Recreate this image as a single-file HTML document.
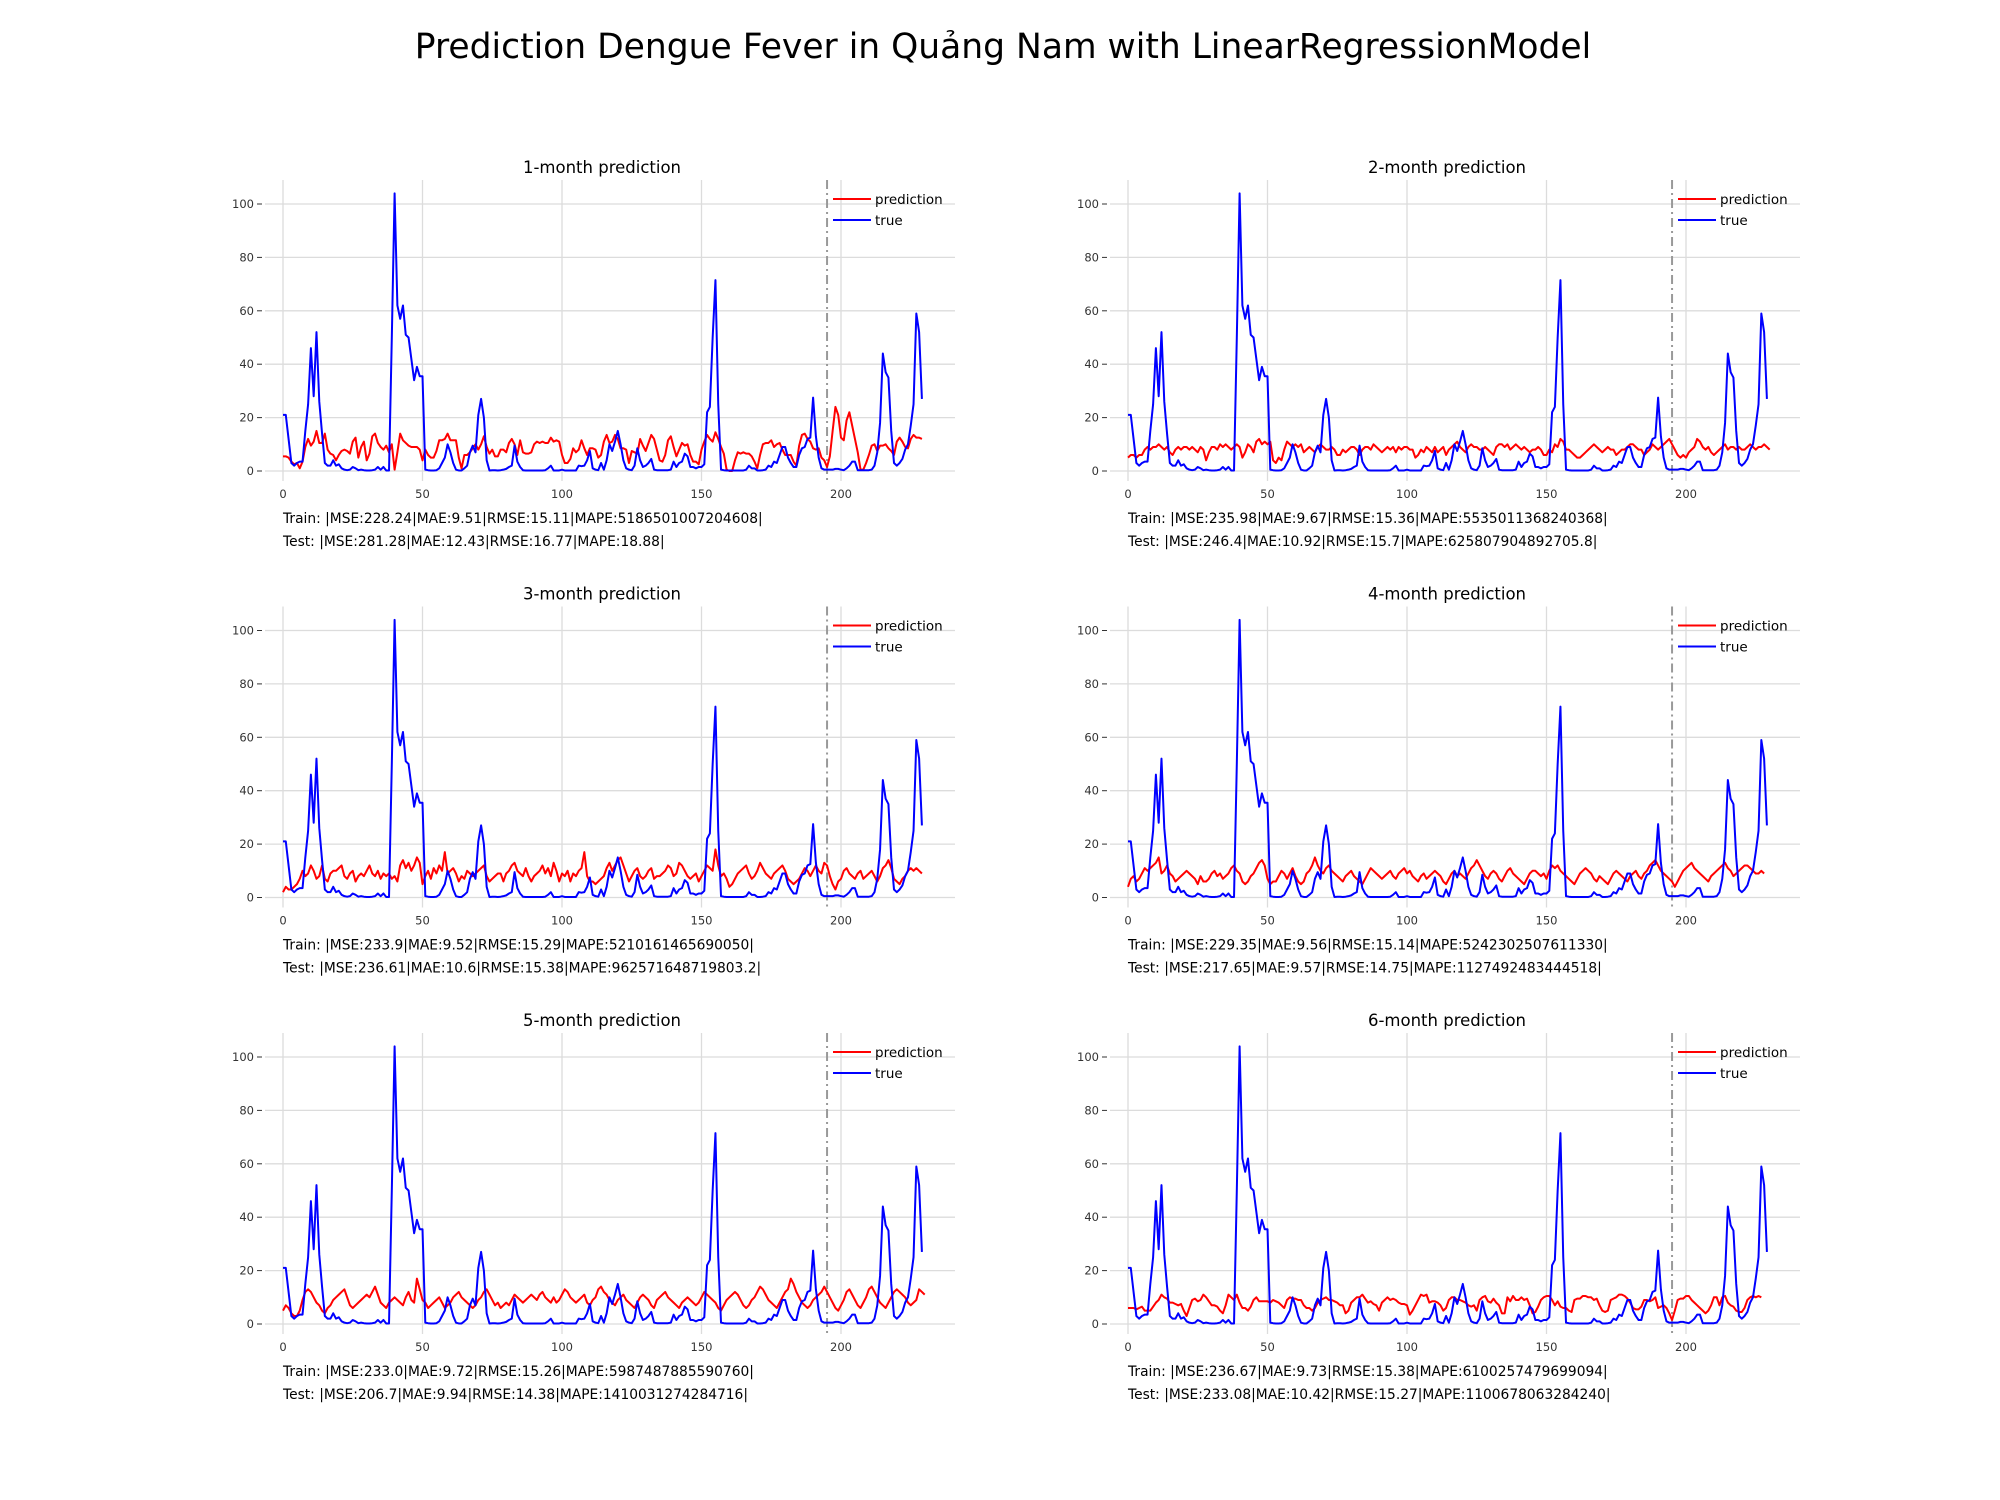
<!DOCTYPE html>
<html><head><meta charset="utf-8"><style>
html,body{margin:0;padding:0;background:#fff;}
svg{display:block;font-family:"DejaVu Sans","Liberation Sans",sans-serif;}
</style></head><body>
<svg id="chart" width="2000" height="1500" viewBox="0 0 2000 1500" xmlns="http://www.w3.org/2000/svg">
<rect width="2000" height="1500" fill="#fff"/>
<text x="1003" y="58" font-size="34.5" text-anchor="middle" fill="#000">Prediction Dengue Fever in Quảng Nam with LinearRegressionModel</text>
</svg>
<script>
const trueVals=[21,21,12,3,2,3,3.5,3.5,15,25,46,28,52,26,14,3,2,2,4,2,2.5,1,0.5,0.3,0.5,1.5,1,0.3,0.5,0.3,0.2,0.2,0.3,0.5,1.5,0.5,1.5,0.2,0.2,50,104,62,57,62,51,50,42,34,39,35.5,35.5,0.5,0.3,0.2,0.2,0.3,1,3,5,10,7,3,0.5,0.2,0.2,1,2,7,9.5,7,21,27,20,4,0.2,0.3,0.3,0.2,0.3,0.5,0.8,1.5,2,9.5,3.5,1.5,0.3,0.2,0.2,0.2,0.2,0.2,0.2,0.2,0.3,1,2,0.2,0.2,0.2,0.5,0.2,0.2,0.2,0.2,0.2,2,1.8,2,4,7.5,1,0.5,0.3,3,0.5,4,10,7.5,11,15,10,4,1,0.5,0.3,2,8.5,4,1.5,2,3,4.5,0.5,0.3,0.3,0.3,0.3,0.3,0.5,3.5,1.5,3,3.5,6.5,5.5,1.5,1.5,1,1.5,1.5,2.5,22,24,50,71.5,25,0.5,0.3,0.2,0.2,0.2,0.2,0.2,0.2,0.2,0.5,2,1,1,0.2,0.2,0.3,0.5,2,1.5,3.5,3,6,9,9,5,3,1.5,1.5,6,8.5,9,12,12.5,27.5,13,5,1,0.5,0.5,0.5,0.5,0.8,0.8,0.5,0.3,1,2,3.5,3.5,0.3,0.3,0.3,0.3,0.3,0.5,2,7,18,44,37,35,15,3,2,3,4.5,8,10,17,25,59,52,27];
const pred1=[5.5,5.5,5,3.5,2.5,3,1,3.5,9,12,9.5,11,15,10.5,10.5,14,8,6.5,6,4,6,7.5,8,7.5,6.5,11,12.5,5,9,11,4,6.5,13,14,10.5,9,8,9.5,7,10,0.5,7,14,11.5,10.5,9.5,9,9,9,8,4,8,6,5,5,7.5,11.5,11.5,12,14,11.5,11.5,11.5,5,1,6,6,7,8.5,10,8,10,13,9,6.5,8,5.5,5.5,8,8,7,10.5,12,10,6,11.5,7,6.5,6.5,7,10,11,10.5,11,10.5,10.5,12.5,11,11.5,11,6,3,3,4.5,8.5,7,8,11.5,8.5,6,8.5,8.5,8,5,6,11,13.5,10.5,11,13.5,12,8.5,8.5,8,3,7.5,7,6.5,12,9.5,7.5,10.5,13.5,12,8,4,3.5,6,11.5,13,9,5.5,8,10.5,9.5,10,6,3.5,3.5,2.5,8,11,13.5,12,11,14.5,12,9,6.5,0.5,0,0,4,7,6.5,7,6.5,6.5,5.5,3.5,1,6,10,10.5,10.5,11.5,9,10,10.5,8,6,6,6,3.5,2,9.5,13.5,14,12,11,8.5,8,8.5,5,4,1.5,5.5,15,24,21,12.5,11.5,19,22,17,12,7,0.5,0.5,3,6,9.5,10,7.5,9.5,9.5,10,8.5,7.5,6,11,12.5,11,9,8.5,12,13.5,12.5,12.5,12];
const pred2=[5,6,6,5,6,6,8,9,8,9,9,10,9,8,9,7,6,8,9,8,9,9,8,9,8,7,9,8,4,7,9,9,8,10,9,10,9,8,9,10,9,5,7,10,9,7,11,12,10,11,10,11,4,3,5,4,8,11,10,9,10,9,10,7,8,9,8,7,9,10,9,8,8,9,8,6,6,8,7,8,9,9,8,6,8,9,9,8,10,9,8,7,8,9,8,9,7,9,8,9,9,8,8,5,6,8,7,9,8,7,9,7,8,9,6,8,9,10,11,9,8,7,9,10,9,9,8,8,9,8,7,6,9,10,10,9,10,8,9,10,9,8,9,8,7,8,8,9,8,6,6,8,7,10,9,12,11,8,8,7,6,5,5,6,7,8,9,10,9,8,7,8,9,8,8,6,7,8,8,9,10,10,9,8,8,6,7,8,10,9,8,9,10,11,12,10,8,6,5,6,5,7,8,9,12,11,9,8,9,7,6,7,8,9,10,8,9,9,8,9,8,8,9,10,9,8,9,9,10,9,8];
const pred3=[2,4,3,3,4,5,7,10,8,9,12,10,7,8,12,7,6,9,10,10,11,12,8,7,9,10,6,8,9,8,10,12,9,8,10,7,9,8,9,7,8,6,12,14,11,13,10,12,15,13,5,8,10,7,11,9,12,10,17,9,10,11,9,6,8,7,10,9,8,9,10,11,12,8,6,7,8,9,9,6,9,10,12,13,10,9,8,11,8,6,8,9,10,12,9,11,8,13,10,6,9,8,10,6,9,8,10,11,17,8,6,6,5,6,7,8,11,13,10,12,14,15,12,9,6,8,10,11,8,7,8,10,11,7,8,8,9,10,12,11,8,9,13,12,10,8,7,8,9,6,8,10,12,11,10,18,12,8,9,7,4,5,7,9,10,11,12,9,7,8,10,13,11,9,8,7,9,10,11,12,10,7,6,5,6,7,9,11,10,8,10,12,10,9,13,12,8,5,3,6,7,10,11,9,8,7,9,10,7,8,9,10,8,6,8,11,12,14,11,7,6,5,7,8,10,11,10,11,10,9];
const pred4=[4,7,8,6,7,9,11,10,11,12,13,15,9,10,12,9,8,6,7,8,9,10,9,8,7,5,8,6,6,7,9,10,8,9,7,8,9,11,12,10,9,6,5,6,8,9,11,13,14,12,7,5,6,6,8,10,9,7,9,11,8,6,5,6,9,10,12,15,12,10,9,11,12,10,9,8,7,6,8,9,10,8,7,6,5,7,9,11,10,9,8,7,8,9,10,8,7,9,10,11,9,10,8,7,6,8,9,7,8,9,10,9,8,6,5,7,9,10,8,9,8,7,9,11,12,14,12,10,8,7,9,10,9,7,6,8,10,11,9,8,7,6,5,7,9,10,10,9,8,9,7,10,12,11,12,10,9,8,7,6,5,7,9,10,11,10,9,7,6,8,7,6,5,7,9,10,9,8,7,6,8,9,10,8,7,9,10,12,13,14,12,10,9,8,7,6,4,6,8,10,11,12,13,11,10,9,8,7,6,8,9,10,11,12,13,11,10,8,9,10,11,12,12,11,10,9,9,10,9];
const pred5=[5,7,6,4,3,3,5,9,12,13,12,10,8,7,5,4,6,7,9,10,11,12,13,10,7,6,7,8,9,10,11,10,12,14,11,8,7,6,8,9,10,9,8,7,10,12,9,8,17,13,9,8,6,7,8,9,10,8,6,7,8,10,11,12,10,9,8,7,6,7,9,10,12,13,11,9,7,8,6,7,8,7,9,11,10,9,8,9,10,11,10,9,11,12,10,9,8,10,8,9,11,13,12,10,9,8,9,10,11,8,7,9,10,13,14,12,11,9,8,7,9,10,11,9,8,7,6,8,10,11,10,9,7,6,9,10,11,12,10,9,8,7,6,8,9,10,9,8,7,8,10,12,11,10,9,8,6,5,7,9,10,11,12,11,9,7,6,7,9,10,12,14,13,11,9,8,7,6,8,10,12,13,17,15,12,10,8,7,6,7,9,10,11,12,14,12,10,8,6,5,7,9,12,13,11,9,7,6,8,10,13,14,12,10,8,7,6,8,10,12,13,12,11,10,8,7,8,9,13,12,11];
const pred6=[6,6,6,5.5,6,6.5,5,5,5,6.5,8,9,11,10,9.5,8,8,7.5,7,7.5,5,3,6,9,9.5,8.5,9,11,10,8.5,7,7,6.5,5,4,7,11,10,9,11,8,6,6,5,6.5,9,10,8.5,8.5,8.5,8.5,8,9,8.5,8,7,6,9,10,9.5,9.5,9,9,7,6,6,5,6,8,9,9.5,10,9,9,8.5,8,7,7,4,5,8,9,10,10,11,9.5,8,8.5,7.5,7,5,8,9,10,9,9.5,9,8,7.5,7.5,7,3.5,5,7,9,11,10.5,11,8,8.5,8.5,8,7,5,6,9,10,10,9,9,8.5,8,7,6.5,7,5,9,10,10.5,8.5,8,9.5,8,7,4,4,10,8.5,10.5,9,9,10,9,9.5,7,4,4.5,6.5,9,10,10.5,10.5,9,7,8.5,6.5,6,6,5,4.5,9,9.5,9.5,10.5,10.5,10,10,9,9.5,7,5,4.5,5,9,9.5,10,11,11,10.5,9.5,8,6,5.5,5.5,6.5,9,9,8.5,9,10,6,6.5,7,6,4,1.5,5,9,9.5,9.5,10.5,10.5,9,8,7,6,5,4,5,7,10,10,7,10,10.5,8,7,6.5,5,4.5,4.5,6,9,10,10.5,10,10.5,10];
const preds=[pred1,pred2,pred3,pred4,pred5,pred6];
const titles=["1-month prediction","2-month prediction","3-month prediction","4-month prediction","5-month prediction","6-month prediction"];
const trainTexts=["Train: |MSE:228.24|MAE:9.51|RMSE:15.11|MAPE:5186501007204608|","Train: |MSE:235.98|MAE:9.67|RMSE:15.36|MAPE:5535011368240368|","Train: |MSE:233.9|MAE:9.52|RMSE:15.29|MAPE:5210161465690050|","Train: |MSE:229.35|MAE:9.56|RMSE:15.14|MAPE:5242302507611330|","Train: |MSE:233.0|MAE:9.72|RMSE:15.26|MAPE:5987487885590760|","Train: |MSE:236.67|MAE:9.73|RMSE:15.38|MAPE:6100257479699094|"];
const testTexts=["Test: |MSE:281.28|MAE:12.43|RMSE:16.77|MAPE:18.88|","Test: |MSE:246.4|MAE:10.92|RMSE:15.7|MAPE:625807904892705.8|","Test: |MSE:236.61|MAE:10.6|RMSE:15.38|MAPE:962571648719803.2|","Test: |MSE:217.65|MAE:9.57|RMSE:14.75|MAPE:1127492483444518|","Test: |MSE:206.7|MAE:9.94|RMSE:14.38|MAPE:1410031274284716|","Test: |MSE:233.08|MAE:10.42|RMSE:15.27|MAPE:1100678063284240|"];
const xTicks=[0,50,100,150,200];
const yTicks=[0,20,40,60,80,100];
const splitIndex=195;

const NS="http://www.w3.org/2000/svg";
const svg=document.getElementById('chart');
function mk(tag,attrs,parent){const e=document.createElementNS(NS,tag);for(const k in attrs)e.setAttribute(k,attrs[k]);(parent||svg).appendChild(e);return e;}
for(let p=0;p<6;p++){
  const col=p%2,row=Math.floor(p/2);
  const ox=283+col*845, oy=471+row*426.5;
  const sx=v=>ox+v*2.79, sy=v=>oy-v*2.67;
  const g=mk('g',{});
  
  
  const L=ox-18,R=ox+672,T=oy-291,B=oy+10;
  const t=mk('text',{x:(L+R)/2-8,y:T-7,'font-size':16.5,'text-anchor':'middle',fill:'#000'},g);t.textContent=titles[p];
  
  
  xTicks.forEach(v=>{
    const l=mk('line',{x1:sx(v),x2:sx(v),y1:T,y2:B,stroke:'#dcdcdc','stroke-width':1.3},g);
    
    
    const tx=mk('text',{x:sx(v),y:B+17,'font-size':11.5,'text-anchor':'middle',fill:'#333'},g);tx.textContent=v;
    
    
  });
  yTicks.forEach(v=>{
    const l=mk('line',{x1:L,x2:R,y1:sy(v),y2:sy(v),stroke:'#dcdcdc','stroke-width':1.3},g);
    
    
    const tk=mk('line',{x1:L-8,x2:L-3,y1:sy(v),y2:sy(v),stroke:'#333','stroke-width':1},g);
    
    
    const ty=mk('text',{x:L-11,y:sy(v)+4,'font-size':11.5,'text-anchor':'end',fill:'#333'},g);ty.textContent=v;
    
    
  });
  const sp=mk('line',{x1:sx(splitIndex),x2:sx(splitIndex),y1:T,y2:B,stroke:'#999','stroke-width':2,'stroke-dasharray':'9,4,2,4'},g);
  
  
  const pr=preds[p];
  const pl=mk('polyline',{points:pr.map((v,i)=>sx(i)+','+sy(v)).join(' '),fill:'none',stroke:'#ff0000','stroke-width':2,'stroke-linejoin':'round'},g);
  
  
  const tl=mk('polyline',{points:trueVals.map((v,i)=>sx(i)+','+sy(v)).join(' '),fill:'none',stroke:'#0000ff','stroke-width':2,'stroke-linejoin':'round'},g);
  
  
  const lx=ox+550, ly=oy-272;
  const lg=mk('g',{},g);
  
  
  mk('line',{x1:lx,x2:lx+38,y1:ly,y2:ly,stroke:'#ff0000','stroke-width':2},lg);
  const lt1=mk('text',{x:lx+42,y:ly+5,'font-size':13.5,fill:'#000'},lg);lt1.textContent='prediction';
  
  
  mk('line',{x1:lx,x2:lx+38,y1:ly+21,y2:ly+21,stroke:'#0000ff','stroke-width':2},lg);
  const lt2=mk('text',{x:lx+42,y:ly+26,'font-size':13.5,fill:'#000'},lg);lt2.textContent='true';
  
  
  const tr=mk('text',{x:ox,y:oy+52,'font-size':13.8,fill:'#000'},g);tr.textContent=trainTexts[p];
  
  
  const te=mk('text',{x:ox,y:oy+75,'font-size':13.8,fill:'#000'},g);te.textContent=testTexts[p];
  
  
}
</script>
</body></html>
